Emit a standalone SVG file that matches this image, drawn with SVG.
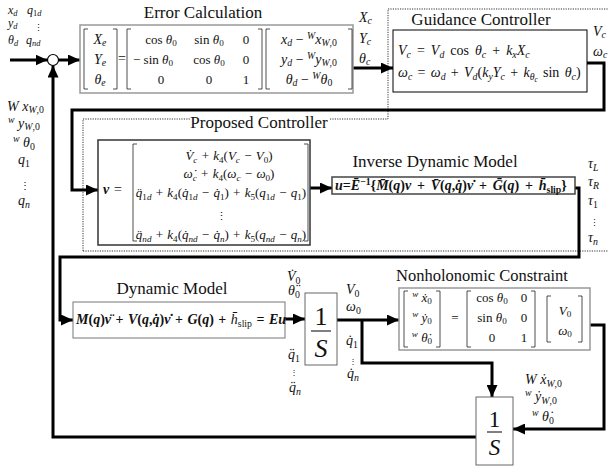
<svg xmlns="http://www.w3.org/2000/svg" width="608" height="468" viewBox="0 0 608 468" font-family="'Liberation Serif', 'Times New Roman', serif">
<style>
text, tspan{font-family:'Liberation Serif', 'Times New Roman', serif}
text{fill:#111}
.t{font-size:17px}
.m{font-style:italic;font-size:12px}
.m13{font-style:italic;font-size:13px}
.m14{font-style:italic;font-size:14px}
.n{font-style:normal}
.b{font-weight:bold}
.s{font-size:0.7em}
text.dots{font-family:'DejaVu Serif', serif;font-style:normal}
.gbox{fill:#fff;stroke:#999;stroke-width:1.5}
.br{fill:none;stroke:#222;stroke-width:0.8}
.wire{fill:none;stroke:#000;stroke-width:3}
.dot{fill:none;stroke:#333;stroke-width:1;stroke-dasharray:1.2 1.2}
</style>
<defs>
<marker id="ah" viewBox="0 0 12 11" refX="12" refY="5.5" markerWidth="12" markerHeight="11" markerUnits="userSpaceOnUse" orient="auto"><path d="M0,0 L12,5.5 L0,11 z" fill="#000"/></marker>
</defs>
<rect width="608" height="468" fill="#fff"/>

<g id="controller-boundary">
<path class="dot" d="M83,251 V119 H190 M330,119 H388 V9 H610 M83,251 H610"/>
</g>

<g id="connectors">
<path class="wire" d="M10,60 H47.5" marker-end="url(#ah)"/>
<path class="wire" d="M58.5,60 H80" marker-end="url(#ah)"/>
<path class="wire" d="M476,437 H53 V65.5" marker-end="url(#ah)"/>
<path class="wire" d="M353,68 H393" marker-end="url(#ah)"/>
<path class="wire" d="M587,63 H604 V110 H72 V190 H98" marker-end="url(#ah)"/>
<path class="wire" d="M310,188 H332" marker-end="url(#ah)"/>
<path class="wire" d="M575,188 H579 V257 H60 V320 H73" marker-end="url(#ah)"/>
<path class="wire" d="M285,319 H305" marker-end="url(#ah)"/>
<path class="wire" d="M337,320 H399" marker-end="url(#ah)"/>
<path class="wire" d="M362,320 V363 H492 V397" marker-end="url(#ah)"/>
<path class="wire" d="M590,325 H604 V429 H513" marker-end="url(#ah)"/>
</g>

<g id="inputs">
<text class="m" x="8" y="14">x<tspan class="s" dy="2">d</tspan></text>
<text class="m" x="27" y="14">q<tspan class="s n" dy="2">1</tspan><tspan class="s">d</tspan></text>
<text class="m" x="8" y="27">y<tspan class="s" dy="2">d</tspan></text>
<text class="dots" x="34" y="31" font-size="9">⋮</text>
<text class="m" x="8" y="44">θ<tspan class="s" dy="2">d</tspan></text>
<text class="m" x="26" y="44">q<tspan class="s" dy="2">nd</tspan></text>
</g>

<g id="sum">
<circle cx="53" cy="60" r="5.5" fill="#fff" stroke="#000" stroke-width="1.2"/>
</g>

<g id="error-calc">
<text class="t" x="203" y="18" text-anchor="middle">Error Calculation</text>
<rect class="gbox" x="80" y="25" width="273" height="68"/>
<path class="br" d="M88,29 H84 V89 H88 M113,29 H117 V89 H113"/>
<text class="m14" x="100" y="44" text-anchor="middle">X<tspan class="s" dy="2">e</tspan></text>
<text class="m14" x="100" y="64" text-anchor="middle">Y<tspan class="s" dy="2">e</tspan></text>
<text class="m14" x="100" y="84" text-anchor="middle">θ<tspan class="s" dy="2">e</tspan></text>
<text class="m14 n" x="122" y="63" text-anchor="middle">=</text>
<path class="br" d="M131,29 H127 V89 H131 M258,29 H262 V89 H258"/>
<text class="m13" x="161" y="44" text-anchor="middle"><tspan class="n">cos </tspan>θ<tspan class="s n" dy="2">0</tspan></text>
<text class="m13" x="209" y="44" text-anchor="middle"><tspan class="n">sin </tspan>θ<tspan class="s n" dy="2">0</tspan></text>
<text class="m13 n" x="246" y="44" text-anchor="middle">0</text>
<text class="m13" x="153" y="64" text-anchor="middle"><tspan class="n">− sin </tspan>θ<tspan class="s n" dy="2">0</tspan></text>
<text class="m13" x="209" y="64" text-anchor="middle"><tspan class="n">cos </tspan>θ<tspan class="s n" dy="2">0</tspan></text>
<text class="m13 n" x="246" y="64" text-anchor="middle">0</text>
<text class="m13 n" x="161" y="84" text-anchor="middle">0</text>
<text class="m13 n" x="209" y="84" text-anchor="middle">0</text>
<text class="m13 n" x="246" y="84" text-anchor="middle">1</text>
<path class="br" d="M270,29 H266 V89 H270 M348,29 H352 V89 H348"/>
<text class="m14" x="309" y="44" text-anchor="middle">x<tspan class="s" dy="2">d</tspan><tspan class="n" dy="-2"> − </tspan><tspan class="s" dy="-5">W</tspan><tspan dy="5">x</tspan><tspan class="s" dy="2">W<tspan class="n">,0</tspan></tspan></text>
<text class="m14" x="309" y="64" text-anchor="middle">y<tspan class="s" dy="2">d</tspan><tspan class="n" dy="-2"> − </tspan><tspan class="s" dy="-5">W</tspan><tspan dy="5">y</tspan><tspan class="s" dy="2">W<tspan class="n">,0</tspan></tspan></text>
<text class="m14" x="309" y="84" text-anchor="middle">θ<tspan class="s" dy="2">d</tspan><tspan class="n" dy="-2"> − </tspan><tspan class="s" dy="-5">W</tspan><tspan dy="5">θ</tspan><tspan class="s n" dy="2">0</tspan></text>
</g>

<g id="error-outputs">
<text class="m14" x="359" y="22">X<tspan class="s" dy="2">c</tspan></text>
<text class="m14" x="359" y="43">Y<tspan class="s" dy="2">c</tspan></text>
<text class="m14" x="359" y="63">θ<tspan class="s" dy="2">c</tspan></text>
</g>

<g id="guidance">
<text class="t" x="481" y="25" text-anchor="middle">Guidance Controller</text>
<rect x="393" y="30" width="194" height="62" fill="#fff" stroke="#000" stroke-width="1"/>
<text class="m14" x="398" y="55" word-spacing="2.5">V<tspan class="s" dy="3">c</tspan><tspan class="n" dy="-3"> = </tspan>V<tspan class="s" dy="3">d</tspan><tspan class="n" dy="-3"> cos </tspan>θ<tspan class="s" dy="3">c</tspan><tspan class="n" dy="-3"> + </tspan>k<tspan class="s" dy="3">x</tspan><tspan dy="-3">X</tspan><tspan class="s" dy="3">c</tspan></text>
<text class="m14" x="398" y="77" word-spacing="1.8">ω<tspan class="s" dy="3">c</tspan><tspan class="n" dy="-3"> = </tspan>ω<tspan class="s" dy="3">d</tspan><tspan class="n" dy="-3"> + </tspan>V<tspan class="s" dy="3">d</tspan><tspan class="n" dy="-3">(</tspan>k<tspan class="s" dy="3">y</tspan><tspan dy="-3">Y</tspan><tspan class="s" dy="3">c</tspan><tspan class="n" dy="-3"> + </tspan>k<tspan class="s" dy="3">θ<tspan font-size="0.75em" dy="2">c</tspan></tspan><tspan class="n" dy="-5"> sin </tspan>θ<tspan class="s" dy="3">c</tspan><tspan class="n" dy="-3">)</tspan></text>
</g>

<g id="guidance-outputs">
<text class="m14" x="593" y="36">V<tspan class="s" dy="2">c</tspan></text>
<text class="m14" x="593" y="56">ω<tspan class="s" dy="2">c</tspan></text>
</g>

<g id="feedback-labels">
<text class="m14" x="7" y="111">W x<tspan class="s" dy="2">W<tspan class="n">,0</tspan></tspan></text>
<text class="m14" x="8" y="128"><tspan class="s" dy="-5">w</tspan><tspan dy="5"> y</tspan><tspan class="s" dy="2">W<tspan class="n">,0</tspan></tspan></text>
<text class="m14" x="13" y="147"><tspan class="s" dy="-5">w</tspan><tspan dy="5"> θ</tspan><tspan class="s n" dy="3">0</tspan></text>
<text class="m14" x="18" y="164">q<tspan class="s n" dy="3">1</tspan></text>
<text class="dots" x="20" y="189" font-size="10">⋮</text>
<text class="m14" x="18" y="205">q<tspan class="s" dy="3">n</tspan></text>
</g>

<g id="proposed">
<text class="t" x="259" y="128" text-anchor="middle">Proposed Controller</text>
<rect x="98" y="140" width="212" height="105" fill="#fff" stroke="#333" stroke-width="1.5"/>
<text class="m14 b" x="103" y="194">v</text>
<text class="m14 n" x="114" y="194">=</text>
<path class="br" d="M137,144 H133 V241 H137 M304,144 H308 V241 H304"/>
<text class="m13" x="229" y="160" text-anchor="middle" word-spacing="1">V&#x307;<tspan class="s" dy="3">c</tspan><tspan class="n" dy="-3"> + </tspan>k<tspan class="s n" dy="3">4</tspan><tspan class="n" dy="-3">(</tspan>V<tspan class="s" dy="3">c</tspan><tspan class="n" dy="-3"> − </tspan>V<tspan class="s n" dy="3">0</tspan><tspan class="n" dy="-3">)</tspan></text>
<text class="m13" x="229" y="178" text-anchor="middle" word-spacing="1">ω&#x307;<tspan class="s" dy="3">c</tspan><tspan class="n" dy="-3"> + </tspan>k<tspan class="s n" dy="3">4</tspan><tspan class="n" dy="-3">(</tspan>ω<tspan class="s" dy="3">c</tspan><tspan class="n" dy="-3"> − </tspan>ω<tspan class="s n" dy="3">0</tspan><tspan class="n" dy="-3">)</tspan></text>
<text class="m13" x="221" y="197" text-anchor="middle" word-spacing="1">q&#x308;<tspan class="s" dy="3"><tspan class="n">1</tspan>d</tspan><tspan class="n" dy="-3"> + </tspan>k<tspan class="s n" dy="3">4</tspan><tspan class="n" dy="-3">(</tspan>q&#x307;<tspan class="s" dy="3"><tspan class="n">1</tspan>d</tspan><tspan class="n" dy="-3"> − </tspan>q&#x307;<tspan class="s n" dy="3">1</tspan><tspan class="n" dy="-3">) + </tspan>k<tspan class="s n" dy="3">5</tspan><tspan class="n" dy="-3">(</tspan>q<tspan class="s" dy="3"><tspan class="n">1</tspan>d</tspan><tspan class="n" dy="-3"> − </tspan>q<tspan class="s n" dy="3">1</tspan><tspan class="n" dy="-3">)</tspan></text>
<text class="dots" x="221" y="220" font-size="11" text-anchor="middle">⋮</text>
<text class="m13" x="221" y="239" text-anchor="middle" word-spacing="1">q&#x308;<tspan class="s" dy="3">nd</tspan><tspan class="n" dy="-3"> + </tspan>k<tspan class="s n" dy="3">4</tspan><tspan class="n" dy="-3">(</tspan>q&#x307;<tspan class="s" dy="3">nd</tspan><tspan class="n" dy="-3"> − </tspan>q&#x307;<tspan class="s" dy="3">n</tspan><tspan class="n" dy="-3">) + </tspan>k<tspan class="s n" dy="3">5</tspan><tspan class="n" dy="-3">(</tspan>q<tspan class="s" dy="3">nd</tspan><tspan class="n" dy="-3"> − </tspan>q<tspan class="s" dy="3">n</tspan><tspan class="n" dy="-3">)</tspan></text>
</g>

<g id="inverse">
<text class="t" x="435" y="167" text-anchor="middle">Inverse Dynamic Model</text>
<rect x="332" y="177" width="243" height="17" fill="#fff" stroke="#444" stroke-width="1.5"/>
<text class="m14 b" x="335" y="190" word-spacing="2.3">u<tspan class="n">=</tspan>E&#x304;<tspan class="s n" dy="-5">−1</tspan><tspan class="n" dy="5">{</tspan>M&#x304;<tspan class="n">(</tspan>q<tspan class="n">)</tspan>v<tspan class="n"> + </tspan>V&#x304;<tspan class="n">(</tspan>q<tspan class="n">,</tspan>q&#x307;<tspan class="n">)</tspan>ν&#x307;<tspan class="n"> + </tspan>G&#x304;<tspan class="n">(</tspan>q<tspan class="n">) + </tspan>h&#x304;<tspan class="s n" dy="3">slip</tspan><tspan class="n" dy="-3">}</tspan></text>
</g>

<g id="torque-labels">
<text class="m14" x="588" y="168">τ<tspan class="s" dy="3">L</tspan></text>
<text class="m14" x="588" y="186">τ<tspan class="s" dy="3">R</tspan></text>
<text class="m14" x="588" y="205">τ<tspan class="s n" dy="3">1</tspan></text>
<text class="dots" x="590" y="226" font-size="9">⋮</text>
<text class="m14" x="588" y="242">τ<tspan class="s" dy="3">n</tspan></text>
</g>

<g id="dynamic">
<text class="t" x="172" y="294" text-anchor="middle">Dynamic Model</text>
<rect x="73" y="302" width="212" height="36" fill="#fff" stroke="#777" stroke-width="1"/>
<text class="m14 b" x="76" y="324" word-spacing="1">M<tspan class="n">(</tspan>q<tspan class="n">)</tspan>ν&#x308;<tspan class="n"> + </tspan>V<tspan class="n">(</tspan>q<tspan class="n">,</tspan>q&#x307;<tspan class="n">)</tspan>ν&#x307;<tspan class="n"> + </tspan>G<tspan class="n">(</tspan>q<tspan class="n">) + </tspan><tspan font-weight="normal">h&#x304;<tspan class="s n" dy="3">slip</tspan></tspan><tspan class="n" dy="-3"> = </tspan>Eu</text>
</g>

<g id="dynamic-labels">
<text class="m14" x="287" y="281">V&#x307;<tspan class="s n" dy="3">0</tspan></text>
<text class="m14" x="288" y="295">θ&#x308;<tspan class="s n" dy="3">0</tspan></text>
<text class="m14" x="288" y="359">q&#x308;<tspan class="s n" dy="3">1</tspan></text>
<text class="dots" x="290" y="375" font-size="8">⋮</text>
<text class="m14" x="289" y="392">q&#x308;<tspan class="s" dy="3">n</tspan></text>
</g>

<g id="integrator1">
<rect x="305" y="293" width="32" height="72" fill="#fff" stroke="#666" stroke-width="1"/>
<text x="321" y="325" text-anchor="middle" font-size="26">1</text>
<line x1="311" y1="331" x2="331" y2="331" stroke="#000" stroke-width="1"/>
<text x="321" y="357" text-anchor="middle" font-size="26" font-style="italic">S</text>
</g>

<g id="integrator1-labels">
<text class="m14" x="346" y="294">V<tspan class="s n" dy="3">0</tspan></text>
<text class="m14" x="346" y="311">ω<tspan class="s n" dy="3">0</tspan></text>
<text class="m14" x="346" y="345">q&#x307;<tspan class="s n" dy="3">1</tspan></text>
<text class="dots" x="349" y="364" font-size="8">⋮</text>
<text class="m14" x="347" y="378">q&#x307;<tspan class="s" dy="3">n</tspan></text>
</g>

<g id="nonholonomic">
<text class="t" x="482" y="281" text-anchor="middle" style="font-size:16.5px">Nonholonomic Constraint</text>
<rect class="gbox" x="399" y="288" width="191" height="62"/>
<path class="br" d="M408,291 H404 V347 H408 M436,291 H440 V347 H436"/>
<text class="m13" x="422" y="302" text-anchor="middle"><tspan class="s" dy="-5">w</tspan><tspan dy="5"> x&#x307;</tspan><tspan class="s n" dy="2">0</tspan></text>
<text class="m13" x="422" y="322" text-anchor="middle"><tspan class="s" dy="-5">w</tspan><tspan dy="5"> y&#x307;</tspan><tspan class="s n" dy="2">0</tspan></text>
<text class="m13" x="422" y="342" text-anchor="middle"><tspan class="s" dy="-5">w</tspan><tspan dy="5"> θ&#x307;</tspan><tspan class="s n" dy="2">0</tspan></text>
<text class="m13 n" x="455" y="322" text-anchor="middle">=</text>
<path class="br" d="M471,291 H467 V347 H471 M531,291 H535 V347 H531"/>
<text class="m13" x="492" y="302" text-anchor="middle"><tspan class="n">cos </tspan>θ<tspan class="s n" dy="2">0</tspan></text>
<text class="m13" x="492" y="322" text-anchor="middle"><tspan class="n">sin </tspan>θ<tspan class="s n" dy="2">0</tspan></text>
<text class="m13 n" x="492" y="342" text-anchor="middle">0</text>
<text class="m13 n" x="524" y="302" text-anchor="middle">0</text>
<text class="m13 n" x="524" y="322" text-anchor="middle">0</text>
<text class="m13 n" x="524" y="342" text-anchor="middle">1</text>
<path class="br" d="M551,296 H547 V342 H551 M578,296 H582 V342 H578"/>
<text class="m13" x="565" y="315" text-anchor="middle">V<tspan class="s n" dy="2">0</tspan></text>
<text class="m13" x="565" y="335" text-anchor="middle">ω<tspan class="s n" dy="2">0</tspan></text>
</g>

<g id="integrator2">
<rect x="476" y="397" width="37" height="68" fill="#fff" stroke="#666" stroke-width="1"/>
<text x="494.5" y="427" text-anchor="middle" font-size="23">1</text>
<line x1="487" y1="432" x2="502" y2="432" stroke="#000" stroke-width="1"/>
<text x="494.5" y="455" text-anchor="middle" font-size="23" font-style="italic">S</text>
</g>

<g id="integrator2-labels">
<text class="m14" x="525" y="384">W x&#x307;<tspan class="s" dy="3">W<tspan class="n">,0</tspan></tspan></text>
<text class="m14" x="525" y="401"><tspan class="s" dy="-5">w</tspan><tspan dy="5"> y&#x307;</tspan><tspan class="s" dy="3">W<tspan class="n">,0</tspan></tspan></text>
<text class="m14" x="532" y="421"><tspan class="s" dy="-5">w</tspan><tspan dy="5"> θ&#x307;</tspan><tspan class="s n" dy="3">0</tspan></text>
</g>
</svg>
